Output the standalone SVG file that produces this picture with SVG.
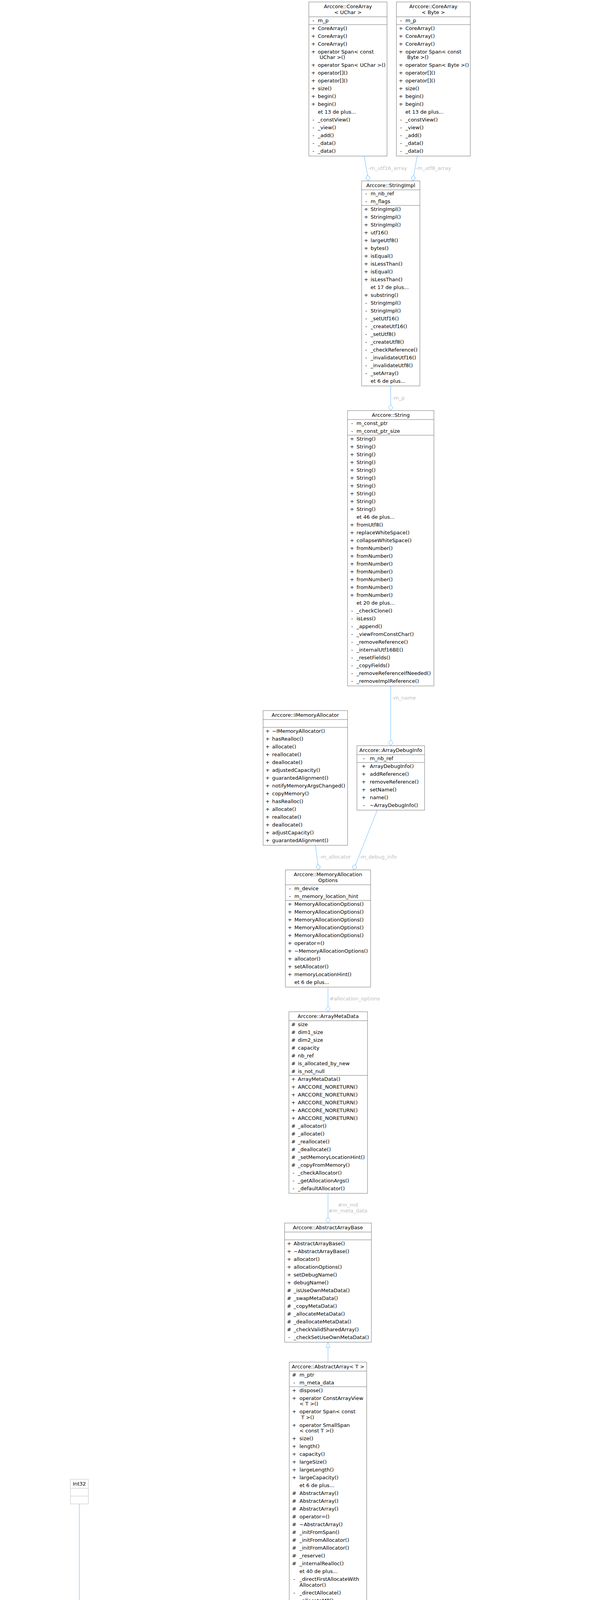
<svg xmlns="http://www.w3.org/2000/svg" width="1545" height="7845" viewBox="0 0 1545 7845">
<style>
text{font-family:"DejaVu Sans","Liberation Sans",Arial,sans-serif;font-size:13px;fill:#000}
.m{text-anchor:middle}
.b{fill:#fff;stroke:#707070}
.bu{fill:#fff;stroke:#bfbfbf}
.bf{fill:#999;stroke:#666}
.s{fill:none;stroke:#707070}
.su{fill:none;stroke:#bfbfbf}
.e{fill:none;stroke:#63b8ff}
.a{marker-end:url(#dia)}
.i{marker-end:url(#tri)}
.l{fill:#bebebe}
</style>
<defs>
<marker id="dia" markerUnits="userSpaceOnUse" orient="auto" refX="15" refY="0" markerWidth="16" markerHeight="13" overflow="visible"><path d="M0,0L7.5,-5.5L15,0L7.5,5.5Z" fill="#fff" stroke="#63b8ff"/></marker>
<marker id="tri" markerUnits="userSpaceOnUse" orient="auto" refX="13" refY="0" markerWidth="14" markerHeight="12" overflow="visible"><path d="M0,-5L13,0L0,5Z" fill="#fff" stroke="#63b8ff"/></marker>
</defs>
<rect x="0" y="0" width="1545" height="7845" fill="#fff"/>

<g id="edges">
<path class="e a" d="M931.5,399.5L942.5,463"/>
<path class="e a" d="M1067,399.5L1056,463"/>
<path class="e a" d="M999.5,988L999.5,1051"/>
<path class="e a" d="M999.5,1756L999.5,1909"/>
<path class="e a" d="M807,2164L815,2227"/>
<path class="e a" d="M965,2074L904,2227"/>
<path class="e a" d="M839,2527L839,2590"/>
<path class="e a" d="M839,3055L839,3131"/>
<path class="e i" d="M839,3487L839,3436"/>
<path class="e i" d="M738,4228L754,4150"/>
<path class="e i" d="M934,4228L918,4150"/>
<path class="e a" d="M203,3850L203,4334"/>
<path class="e a" d="M203,4554L203,4721"/>
<path class="e a" d="M353,4642L318,4721"/>
<path class="e a" d="M444,4642C447,4900 458,5120 488,5290C505,5390 528,5460 545,5517"/>
<path class="e a" d="M655,5095C650,5300 645,5420 645,5517"/>
<path class="e a" d="M888,5068C876,5170 866,5270 868,5370C870,5470 828,5570 778,5642"/>
<path class="e a" d="M296,5175C318,5260 312,5380 318,5460C335,5580 420,5660 519,5730"/>
<path class="e a" d="M190,5175C180,5400 168,5560 129,5734"/>
<path class="e a" d="M72,5734C40,5620 6,5500 6,5370C6,5240 30,5150 87,5090"/>
<path class="e a" d="M771,6152L791,6215"/>
<path class="e a" d="M890,6595L896,6658"/>
<path class="e i" d="M1097,5199L1024,4657"/>
<path class="e a" d="M1104,5494C1092,6000 1075,6800 1057,7380"/>
<path class="e a" d="M985,7318L992,7380"/>
<path class="e a" d="M1165,7119L1097,7380"/>
<path class="e a" d="M751,7157C785,7270 845,7400 919,7460"/>
<path class="e a" d="M1355,7207C1320,7320 1240,7430 1146,7499"/>
<path class="e i" d="M919,7561C780,7490 640,7380 560,7260C505,7170 472,7100 459,7018"/>
<text class="l" x="942" y="434.8">-m_utf16_array</text>
<text class="l" x="1063" y="434.8">-m_utf8_array</text>
<text class="l" x="1003" y="1022.5">-m_p</text>
<text class="l" x="1003" y="1791.3">-m_name</text>
<text class="l" x="817" y="2198">-m_allocator</text>
<text class="l" x="919" y="2198">-m_debug_info</text>
<text class="l" x="843" y="2560.7">#allocation_options</text>
<text class="l m" x="890" y="3088.8">#m_md</text>
<text class="l m" x="890" y="3103.6">#m_meta_data</text>
<text class="l" x="207" y="4185">-HOST_ID</text>
<text class="l" x="207" y="4199.7">-NULL_ID</text>
<text class="l" x="207" y="4691.4">-m_device_id</text>
<text class="l" x="332" y="4691.4">-m_runtime</text>
<text class="l" x="475" y="4950.5">-m_runtime</text>
<text class="l" x="34.5" y="5348.4">-m_run_queue_pool</text>
<text class="l" x="193" y="5348.4">-m_runner_impl</text>
<text class="l" x="337" y="5348.4">-m_runner_impl</text>
<text class="l" x="654" y="5348.4">-m_active_run_command_list</text>
<text class="l" x="875" y="5348.4">-m_queue_stream</text>
<text class="l" x="789" y="6187">-m_value</text>
<text class="l" x="1082" y="6407.5">-m_heat_objects</text>
<text class="l" x="898.6" y="6628.5">-m_p</text>
<text class="l" x="845" y="7352">-m_material_mng</text>
<text class="l" x="994" y="7352">-m_queue</text>
<text class="l" x="1104.5" y="7352">-m_profiling_service</text>
<text class="l" x="1286" y="7352">-m_sequential_runner</text>
</g>

<g id="coreArrayUChar">
<rect class="b" x="790" y="5" width="200" height="394.5"/>
<path class="s" d="M790,43H990M790,63H990"/>
<text class="m" x="890" y="20.5">Arccore::CoreArray</text>
<text class="m" x="890" y="35.5">&lt; UChar &gt;</text>
<text class="m" x="801.5" y="56.5">-</text><text x="813" y="56.5">m_p</text>
<text class="m" x="801.5" y="76.5">+<tspan x="801.5" dy="20">+</tspan><tspan x="801.5" dy="20">+</tspan><tspan x="801.5" dy="20">+</tspan><tspan x="801.5" dy="34.5">+</tspan><tspan x="801.5" dy="20">+</tspan><tspan x="801.5" dy="20">+</tspan><tspan x="801.5" dy="20">+</tspan><tspan x="801.5" dy="20">+</tspan><tspan x="801.5" dy="20">+</tspan><tspan x="801.5" dy="40">-</tspan><tspan x="801.5" dy="20">-</tspan><tspan x="801.5" dy="20">-</tspan><tspan x="801.5" dy="20">-</tspan><tspan x="801.5" dy="20">-</tspan></text>
<text x="813" y="76.5">CoreArray()<tspan x="813" dy="20">CoreArray()</tspan><tspan x="813" dy="20">CoreArray()</tspan><tspan x="813" dy="20">operator Span&lt; const</tspan><tspan x="817.5" dy="14.5">UChar &gt;()</tspan><tspan x="813" dy="20">operator Span&lt; UChar &gt;()</tspan><tspan x="813" dy="20">operator[]()</tspan><tspan x="813" dy="20">operator[]()</tspan><tspan x="813" dy="20">size()</tspan><tspan x="813" dy="20">begin()</tspan><tspan x="813" dy="20">begin()</tspan><tspan x="813" dy="20">et 13 de plus...</tspan><tspan x="813" dy="20">_constView()</tspan><tspan x="813" dy="20">_view()</tspan><tspan x="813" dy="20">_add()</tspan><tspan x="813" dy="20">_data()</tspan><tspan x="813" dy="20">_data()</tspan></text>
</g>

<g id="coreArrayByte">
<rect class="b" x="1014" y="5" width="189" height="394.5"/>
<path class="s" d="M1014,43H1203M1014,63H1203"/>
<text class="m" x="1108.5" y="20.5">Arccore::CoreArray</text>
<text class="m" x="1108.5" y="35.5">&lt; Byte &gt;</text>
<text class="m" x="1025.5" y="56.5">-</text><text x="1037" y="56.5">m_p</text>
<text class="m" x="1025.5" y="76.5">+<tspan x="1025.5" dy="20">+</tspan><tspan x="1025.5" dy="20">+</tspan><tspan x="1025.5" dy="20">+</tspan><tspan x="1025.5" dy="34.5">+</tspan><tspan x="1025.5" dy="20">+</tspan><tspan x="1025.5" dy="20">+</tspan><tspan x="1025.5" dy="20">+</tspan><tspan x="1025.5" dy="20">+</tspan><tspan x="1025.5" dy="20">+</tspan><tspan x="1025.5" dy="40">-</tspan><tspan x="1025.5" dy="20">-</tspan><tspan x="1025.5" dy="20">-</tspan><tspan x="1025.5" dy="20">-</tspan><tspan x="1025.5" dy="20">-</tspan></text>
<text x="1037" y="76.5">CoreArray()<tspan x="1037" dy="20">CoreArray()</tspan><tspan x="1037" dy="20">CoreArray()</tspan><tspan x="1037" dy="20">operator Span&lt; const</tspan><tspan x="1041.5" dy="14.5">Byte &gt;()</tspan><tspan x="1037" dy="20">operator Span&lt; Byte &gt;()</tspan><tspan x="1037" dy="20">operator[]()</tspan><tspan x="1037" dy="20">operator[]()</tspan><tspan x="1037" dy="20">size()</tspan><tspan x="1037" dy="20">begin()</tspan><tspan x="1037" dy="20">begin()</tspan><tspan x="1037" dy="20">et 13 de plus...</tspan><tspan x="1037" dy="20">_constView()</tspan><tspan x="1037" dy="20">_view()</tspan><tspan x="1037" dy="20">_add()</tspan><tspan x="1037" dy="20">_data()</tspan><tspan x="1037" dy="20">_data()</tspan></text>
</g>

<g id="stringImpl">
<rect class="b" x="925" y="463" width="149" height="525"/>
<path class="s" d="M925,486H1074M925,526H1074"/>
<text class="m" x="999.5" y="478.5">Arccore::StringImpl</text>
<text class="m" x="936.5" y="499.5">-<tspan x="936.5" dy="20">-</tspan></text>
<text x="948" y="499.5">m_nb_ref<tspan x="948" dy="20">m_flags</tspan></text>
<text class="m" x="936.5" y="539.5">+<tspan x="936.5" dy="20">+</tspan><tspan x="936.5" dy="20">+</tspan><tspan x="936.5" dy="20">+</tspan><tspan x="936.5" dy="20">+</tspan><tspan x="936.5" dy="20">+</tspan><tspan x="936.5" dy="20">+</tspan><tspan x="936.5" dy="20">+</tspan><tspan x="936.5" dy="20">+</tspan><tspan x="936.5" dy="20">+</tspan><tspan x="936.5" dy="40">+</tspan><tspan x="936.5" dy="20">-</tspan><tspan x="936.5" dy="20">-</tspan><tspan x="936.5" dy="20">-</tspan><tspan x="936.5" dy="20">-</tspan><tspan x="936.5" dy="20">-</tspan><tspan x="936.5" dy="20">-</tspan><tspan x="936.5" dy="20">-</tspan><tspan x="936.5" dy="20">-</tspan><tspan x="936.5" dy="20">-</tspan><tspan x="936.5" dy="20">-</tspan></text>
<text x="948" y="539.5">StringImpl()<tspan x="948" dy="20">StringImpl()</tspan><tspan x="948" dy="20">StringImpl()</tspan><tspan x="948" dy="20">utf16()</tspan><tspan x="948" dy="20">largeUtf8()</tspan><tspan x="948" dy="20">bytes()</tspan><tspan x="948" dy="20">isEqual()</tspan><tspan x="948" dy="20">isLessThan()</tspan><tspan x="948" dy="20">isEqual()</tspan><tspan x="948" dy="20">isLessThan()</tspan><tspan x="948" dy="20">et 17 de plus...</tspan><tspan x="948" dy="20">substring()</tspan><tspan x="948" dy="20">StringImpl()</tspan><tspan x="948" dy="20">StringImpl()</tspan><tspan x="948" dy="20">_setUtf16()</tspan><tspan x="948" dy="20">_createUtf16()</tspan><tspan x="948" dy="20">_setUtf8()</tspan><tspan x="948" dy="20">_createUtf8()</tspan><tspan x="948" dy="20">_checkReference()</tspan><tspan x="948" dy="20">_invalidateUtf16()</tspan><tspan x="948" dy="20">_invalidateUtf8()</tspan><tspan x="948" dy="20">_setArray()</tspan><tspan x="948" dy="20">et 6 de plus...</tspan></text>
</g>

<g id="string">
<rect class="b" x="889" y="1051" width="221" height="705"/>
<path class="s" d="M889,1074H1110M889,1114H1110"/>
<text class="m" x="999.5" y="1066.5">Arccore::String</text>
<text class="m" x="900.5" y="1087.5">-<tspan x="900.5" dy="20">-</tspan></text>
<text x="912" y="1087.5">m_const_ptr<tspan x="912" dy="20">m_const_ptr_size</tspan></text>
<text class="m" x="900.5" y="1127.5">+<tspan x="900.5" dy="20">+</tspan><tspan x="900.5" dy="20">+</tspan><tspan x="900.5" dy="20">+</tspan><tspan x="900.5" dy="20">+</tspan><tspan x="900.5" dy="20">+</tspan><tspan x="900.5" dy="20">+</tspan><tspan x="900.5" dy="20">+</tspan><tspan x="900.5" dy="20">+</tspan><tspan x="900.5" dy="20">+</tspan><tspan x="900.5" dy="40">+</tspan><tspan x="900.5" dy="20">+</tspan><tspan x="900.5" dy="20">+</tspan><tspan x="900.5" dy="20">+</tspan><tspan x="900.5" dy="20">+</tspan><tspan x="900.5" dy="20">+</tspan><tspan x="900.5" dy="20">+</tspan><tspan x="900.5" dy="20">+</tspan><tspan x="900.5" dy="20">+</tspan><tspan x="900.5" dy="20">+</tspan><tspan x="900.5" dy="40">-</tspan><tspan x="900.5" dy="20">-</tspan><tspan x="900.5" dy="20">-</tspan><tspan x="900.5" dy="20">-</tspan><tspan x="900.5" dy="20">-</tspan><tspan x="900.5" dy="20">-</tspan><tspan x="900.5" dy="20">-</tspan><tspan x="900.5" dy="20">-</tspan><tspan x="900.5" dy="20">-</tspan><tspan x="900.5" dy="20">-</tspan></text>
<text x="912" y="1127.5">String()<tspan x="912" dy="20">String()</tspan><tspan x="912" dy="20">String()</tspan><tspan x="912" dy="20">String()</tspan><tspan x="912" dy="20">String()</tspan><tspan x="912" dy="20">String()</tspan><tspan x="912" dy="20">String()</tspan><tspan x="912" dy="20">String()</tspan><tspan x="912" dy="20">String()</tspan><tspan x="912" dy="20">String()</tspan><tspan x="912" dy="20">et 46 de plus...</tspan><tspan x="912" dy="20">fromUtf8()</tspan><tspan x="912" dy="20">replaceWhiteSpace()</tspan><tspan x="912" dy="20">collapseWhiteSpace()</tspan><tspan x="912" dy="20">fromNumber()</tspan><tspan x="912" dy="20">fromNumber()</tspan><tspan x="912" dy="20">fromNumber()</tspan><tspan x="912" dy="20">fromNumber()</tspan><tspan x="912" dy="20">fromNumber()</tspan><tspan x="912" dy="20">fromNumber()</tspan><tspan x="912" dy="20">fromNumber()</tspan><tspan x="912" dy="20">et 20 de plus...</tspan><tspan x="912" dy="20">_checkClone()</tspan><tspan x="912" dy="20">isLess()</tspan><tspan x="912" dy="20">_append()</tspan><tspan x="912" dy="20">_viewFromConstChar()</tspan><tspan x="912" dy="20">_removeReference()</tspan><tspan x="912" dy="20">_internalUtf16BE()</tspan><tspan x="912" dy="20">_resetFields()</tspan><tspan x="912" dy="20">_copyFields()</tspan><tspan x="912" dy="20">_removeReferenceIfNeeded()</tspan><tspan x="912" dy="20">_removeImplReference()</tspan></text>
</g>

<g id="arrayDebugInfo">
<rect class="b" x="913" y="1909" width="173" height="165"/>
<path class="s" d="M913,1932H1086M913,1952H1086"/>
<text class="m" x="999.5" y="1924.5">Arccore::ArrayDebugInfo</text>
<text class="m" x="930.5" y="1945.5">-</text><text x="946" y="1945.5">m_nb_ref</text>
<text class="m" x="930.5" y="1965.5">+<tspan x="930.5" dy="20">+</tspan><tspan x="930.5" dy="20">+</tspan><tspan x="930.5" dy="20">+</tspan><tspan x="930.5" dy="20">+</tspan><tspan x="930.5" dy="20">-</tspan></text>
<text x="946" y="1965.5">ArrayDebugInfo()<tspan x="946" dy="20">addReference()</tspan><tspan x="946" dy="20">removeReference()</tspan><tspan x="946" dy="20">setName()</tspan><tspan x="946" dy="20">name()</tspan><tspan x="946" dy="20">~ArrayDebugInfo()</tspan></text>
</g>

<g id="iMemoryAllocator">
<rect class="b" x="673" y="1819" width="216" height="345"/>
<path class="s" d="M673,1842H889M673,1862H889"/>
<text class="m" x="781" y="1834.5">Arccore::IMemoryAllocator</text>
<text class="m" x="684.5" y="1875.5">+<tspan x="684.5" dy="20">+</tspan><tspan x="684.5" dy="20">+</tspan><tspan x="684.5" dy="20">+</tspan><tspan x="684.5" dy="20">+</tspan><tspan x="684.5" dy="20">+</tspan><tspan x="684.5" dy="20">+</tspan><tspan x="684.5" dy="20">+</tspan><tspan x="684.5" dy="20">+</tspan><tspan x="684.5" dy="20">+</tspan><tspan x="684.5" dy="20">+</tspan><tspan x="684.5" dy="20">+</tspan><tspan x="684.5" dy="20">+</tspan><tspan x="684.5" dy="20">+</tspan><tspan x="684.5" dy="20">+</tspan></text>
<text x="696" y="1875.5">~IMemoryAllocator()<tspan x="696" dy="20">hasRealloc()</tspan><tspan x="696" dy="20">allocate()</tspan><tspan x="696" dy="20">reallocate()</tspan><tspan x="696" dy="20">deallocate()</tspan><tspan x="696" dy="20">adjustedCapacity()</tspan><tspan x="696" dy="20">guarantedAlignment()</tspan><tspan x="696" dy="20">notifyMemoryArgsChanged()</tspan><tspan x="696" dy="20">copyMemory()</tspan><tspan x="696" dy="20">hasRealloc()</tspan><tspan x="696" dy="20">allocate()</tspan><tspan x="696" dy="20">reallocate()</tspan><tspan x="696" dy="20">deallocate()</tspan><tspan x="696" dy="20">adjustCapacity()</tspan><tspan x="696" dy="20">guarantedAlignment()</tspan></text>
</g>

<g id="memoryAllocationOptions">
<rect class="b" x="730" y="2227" width="218" height="300"/>
<path class="s" d="M730,2265H948M730,2305H948"/>
<text class="m" x="839" y="2242.5">Arccore::MemoryAllocation</text>
<text class="m" x="839" y="2257.5">Options</text>
<text class="m" x="741.5" y="2278.5">-<tspan x="741.5" dy="20">-</tspan></text>
<text x="753" y="2278.5">m_device<tspan x="753" dy="20">m_memory_location_hint</tspan></text>
<text class="m" x="741.5" y="2318.5">+<tspan x="741.5" dy="20">+</tspan><tspan x="741.5" dy="20">+</tspan><tspan x="741.5" dy="20">+</tspan><tspan x="741.5" dy="20">+</tspan><tspan x="741.5" dy="20">+</tspan><tspan x="741.5" dy="20">+</tspan><tspan x="741.5" dy="20">+</tspan><tspan x="741.5" dy="20">+</tspan><tspan x="741.5" dy="20">+</tspan></text>
<text x="753" y="2318.5">MemoryAllocationOptions()<tspan x="753" dy="20">MemoryAllocationOptions()</tspan><tspan x="753" dy="20">MemoryAllocationOptions()</tspan><tspan x="753" dy="20">MemoryAllocationOptions()</tspan><tspan x="753" dy="20">MemoryAllocationOptions()</tspan><tspan x="753" dy="20">operator=()</tspan><tspan x="753" dy="20">~MemoryAllocationOptions()</tspan><tspan x="753" dy="20">allocator()</tspan><tspan x="753" dy="20">setAllocator()</tspan><tspan x="753" dy="20">memoryLocationHint()</tspan><tspan x="753" dy="20">et 6 de plus...</tspan></text>
</g>

<g id="arrayMetaData">
<rect class="b" x="739" y="2590" width="201" height="465"/>
<path class="s" d="M739,2613H940M739,2753H940"/>
<text class="m" x="839.5" y="2605.5">Arccore::ArrayMetaData</text>
<text class="m" x="750.5" y="2626.5">#<tspan x="750.5" dy="20">#</tspan><tspan x="750.5" dy="20">#</tspan><tspan x="750.5" dy="20">#</tspan><tspan x="750.5" dy="20">#</tspan><tspan x="750.5" dy="20">#</tspan><tspan x="750.5" dy="20">#</tspan></text>
<text x="762" y="2626.5">size<tspan x="762" dy="20">dim1_size</tspan><tspan x="762" dy="20">dim2_size</tspan><tspan x="762" dy="20">capacity</tspan><tspan x="762" dy="20">nb_ref</tspan><tspan x="762" dy="20">is_allocated_by_new</tspan><tspan x="762" dy="20">is_not_null</tspan></text>
<text class="m" x="750.5" y="2766.5">+<tspan x="750.5" dy="20">+</tspan><tspan x="750.5" dy="20">+</tspan><tspan x="750.5" dy="20">+</tspan><tspan x="750.5" dy="20">+</tspan><tspan x="750.5" dy="20">+</tspan><tspan x="750.5" dy="20">#</tspan><tspan x="750.5" dy="20">#</tspan><tspan x="750.5" dy="20">#</tspan><tspan x="750.5" dy="20">#</tspan><tspan x="750.5" dy="20">#</tspan><tspan x="750.5" dy="20">#</tspan><tspan x="750.5" dy="20">-</tspan><tspan x="750.5" dy="20">-</tspan><tspan x="750.5" dy="20">-</tspan></text>
<text x="762" y="2766.5">ArrayMetaData()<tspan x="762" dy="20">ARCCORE_NORETURN()</tspan><tspan x="762" dy="20">ARCCORE_NORETURN()</tspan><tspan x="762" dy="20">ARCCORE_NORETURN()</tspan><tspan x="762" dy="20">ARCCORE_NORETURN()</tspan><tspan x="762" dy="20">ARCCORE_NORETURN()</tspan><tspan x="762" dy="20">_allocator()</tspan><tspan x="762" dy="20">_allocate()</tspan><tspan x="762" dy="20">_reallocate()</tspan><tspan x="762" dy="20">_deallocate()</tspan><tspan x="762" dy="20">_setMemoryLocationHint()</tspan><tspan x="762" dy="20">_copyFromMemory()</tspan><tspan x="762" dy="20">_checkAllocator()</tspan><tspan x="762" dy="20">_getAllocationArgs()</tspan><tspan x="762" dy="20">_defaultAllocator()</tspan></text>
</g>

<g id="abstractArrayBase">
<rect class="b" x="728" y="3131" width="222" height="305"/>
<path class="s" d="M728,3154H950M728,3174H950"/>
<text class="m" x="839" y="3146.5">Arccore::AbstractArrayBase</text>
<text class="m" x="739.5" y="3187.5">+<tspan x="739.5" dy="20">+</tspan><tspan x="739.5" dy="20">+</tspan><tspan x="739.5" dy="20">+</tspan><tspan x="739.5" dy="20">+</tspan><tspan x="739.5" dy="20">+</tspan><tspan x="739.5" dy="20">#</tspan><tspan x="739.5" dy="20">#</tspan><tspan x="739.5" dy="20">#</tspan><tspan x="739.5" dy="20">#</tspan><tspan x="739.5" dy="20">#</tspan><tspan x="739.5" dy="20">#</tspan><tspan x="739.5" dy="20">-</tspan></text>
<text x="751" y="3187.5">AbstractArrayBase()<tspan x="751" dy="20">~AbstractArrayBase()</tspan><tspan x="751" dy="20">allocator()</tspan><tspan x="751" dy="20">allocationOptions()</tspan><tspan x="751" dy="20">setDebugName()</tspan><tspan x="751" dy="20">debugName()</tspan><tspan x="751" dy="20">_isUseOwnMetaData()</tspan><tspan x="751" dy="20">_swapMetaData()</tspan><tspan x="751" dy="20">_copyMetaData()</tspan><tspan x="751" dy="20">_allocateMetaData()</tspan><tspan x="751" dy="20">_deallocateMetaData()</tspan><tspan x="751" dy="20">_checkValidSharedArray()</tspan><tspan x="751" dy="20">_checkSetUseOwnMetaData()</tspan></text>
</g>

<g id="abstractArray">
<rect class="b" x="740" y="3487" width="198" height="663"/>
<path class="s" d="M740,3510H938M740,3550H938"/>
<text class="m" x="839" y="3502.5">Arccore::AbstractArray&lt; T &gt;</text>
<text class="m" x="752.5" y="3523.5">#<tspan x="752.5" dy="20">-</tspan></text>
<text x="766" y="3523.5">m_ptr<tspan x="766" dy="20">m_meta_data</tspan></text>
<text class="m" x="752.5" y="3563.5">+<tspan x="752.5" dy="20">+</tspan><tspan x="752.5" dy="34.5">+</tspan><tspan x="752.5" dy="34.5">+</tspan><tspan x="752.5" dy="34.5">+</tspan><tspan x="752.5" dy="20">+</tspan><tspan x="752.5" dy="20">+</tspan><tspan x="752.5" dy="20">+</tspan><tspan x="752.5" dy="20">+</tspan><tspan x="752.5" dy="20">+</tspan><tspan x="752.5" dy="40">#</tspan><tspan x="752.5" dy="20">#</tspan><tspan x="752.5" dy="20">#</tspan><tspan x="752.5" dy="20">#</tspan><tspan x="752.5" dy="20">#</tspan><tspan x="752.5" dy="20">#</tspan><tspan x="752.5" dy="20">#</tspan><tspan x="752.5" dy="20">#</tspan><tspan x="752.5" dy="20">#</tspan><tspan x="752.5" dy="20">#</tspan><tspan x="752.5" dy="40">-</tspan><tspan x="752.5" dy="34.5">-</tspan><tspan x="752.5" dy="20">-</tspan><tspan x="752.5" dy="20">-</tspan><tspan x="752.5" dy="20">-</tspan></text>
<text x="766" y="3563.5">dispose()<tspan x="766" dy="20">operator ConstArrayView</tspan><tspan x="766" dy="14.5">&lt; T &gt;()</tspan><tspan x="766" dy="20">operator Span&lt; const</tspan><tspan x="770.5" dy="14.5">T &gt;()</tspan><tspan x="766" dy="20">operator SmallSpan</tspan><tspan x="766" dy="14.5">&lt; const T &gt;()</tspan><tspan x="766" dy="20">size()</tspan><tspan x="766" dy="20">length()</tspan><tspan x="766" dy="20">capacity()</tspan><tspan x="766" dy="20">largeSize()</tspan><tspan x="766" dy="20">largeLength()</tspan><tspan x="766" dy="20">largeCapacity()</tspan><tspan x="766" dy="20">et 6 de plus...</tspan><tspan x="766" dy="20">AbstractArray()</tspan><tspan x="766" dy="20">AbstractArray()</tspan><tspan x="766" dy="20">AbstractArray()</tspan><tspan x="766" dy="20">operator=()</tspan><tspan x="766" dy="20">~AbstractArray()</tspan><tspan x="766" dy="20">_initFromSpan()</tspan><tspan x="766" dy="20">_initFromAllocator()</tspan><tspan x="766" dy="20">_initFromAllocator()</tspan><tspan x="766" dy="20">_reserve()</tspan><tspan x="766" dy="20">_internalRealloc()</tspan><tspan x="766" dy="20">et 40 de plus...</tspan><tspan x="766" dy="20">_directFirstAllocateWith</tspan><tspan x="766" dy="14.5">Allocator()</tspan><tspan x="766" dy="20">_directAllocate()</tspan><tspan x="766" dy="20">_allocateMP()</tspan><tspan x="766" dy="20">_directReAllocate()</tspan><tspan x="766" dy="20">_setToSharedNull()</tspan></text>
</g>

<g id="int32">
<rect class="bu" x="180" y="3787" width="46" height="63"/>
<path class="su" d="M180,3810H226M180,3830H226"/>
<text class="m" x="203" y="3802.5">Int32</text>
</g>

<g id="deviceId">
<rect class="b" x="133" y="4334" width="140" height="220"/>
<path class="s" d="M133,4372H273M133,4392H273"/>
<text class="m" x="203" y="4349.5">Arcane::Accelerator</text>
<text class="m" x="203" y="4364.5">::DeviceId</text>
<text class="m" x="148.5" y="4385.5">-</text><text x="163" y="4385.5">m_device_id</text>
<text class="m" x="148.5" y="4405.5">+<tspan x="148.5" dy="20">+</tspan><tspan x="148.5" dy="20">+</tspan><tspan x="148.5" dy="20">+</tspan><tspan x="148.5" dy="20">+</tspan><tspan x="148.5" dy="20">+</tspan><tspan x="148.5" dy="20">+</tspan><tspan x="148.5" dy="20">+</tspan></text>
<text x="163" y="4405.5">DeviceId()<tspan x="163" dy="20">DeviceId()</tspan><tspan x="163" dy="20">isHost()</tspan><tspan x="163" dy="20">isNull()</tspan><tspan x="163" dy="20">isAccelerator()</tspan><tspan x="163" dy="20">asInt32()</tspan><tspan x="163" dy="20">hostDevice()</tspan><tspan x="163" dy="20">nullDevice()</tspan></text>
</g>

<g id="iRunnerRuntime">
<rect class="b" x="345" y="4242" width="213" height="400"/>
<path class="s" d="M345,4280H558M345,4300H558"/>
<text x="376" y="4257.5">Arcane::Accelerator</text>
<text class="m" x="451.5" y="4272.5">::impl::IRunnerRuntime</text>
<text class="m" x="356.5" y="4313.5">+<tspan x="356.5" dy="20">+</tspan><tspan x="356.5" dy="20">+</tspan><tspan x="356.5" dy="20">+</tspan><tspan x="356.5" dy="20">+</tspan><tspan x="356.5" dy="20">+</tspan><tspan x="356.5" dy="20">+</tspan><tspan x="356.5" dy="20">+</tspan><tspan x="356.5" dy="20">+</tspan><tspan x="356.5" dy="20">+</tspan><tspan x="356.5" dy="20">+</tspan><tspan x="356.5" dy="20">+</tspan><tspan x="356.5" dy="20">+</tspan><tspan x="356.5" dy="20">+</tspan><tspan x="356.5" dy="20">+</tspan><tspan x="356.5" dy="20">#</tspan><tspan x="356.5" dy="20">#</tspan></text>
<text x="367" y="4313.5">~IRunnerRuntime()<tspan x="367" dy="20">notifyBeginLaunchKernel()</tspan><tspan x="367" dy="20">notifyEndLaunchKernel()</tspan><tspan x="367" dy="20">barrier()</tspan><tspan x="367" dy="20">executionPolicy()</tspan><tspan x="367" dy="20">createStream()</tspan><tspan x="367" dy="20">createEventImpl()</tspan><tspan x="367" dy="20">createEventImplWithTimer()</tspan><tspan x="367" dy="20">setMemoryAdvice()</tspan><tspan x="367" dy="20">unsetMemoryAdvice()</tspan><tspan x="367" dy="20">setCurrentDevice()</tspan><tspan x="367" dy="20">deviceInfoList()</tspan><tspan x="367" dy="20">startProfiling()</tspan><tspan x="367" dy="20">stopProfiling()</tspan><tspan x="367" dy="20">getPointerAttribute()</tspan><tspan x="367" dy="20">_fillPointerAttribute()</tspan><tspan x="367" dy="20">_fillPointerAttribute()</tspan></text>
</g>

<g id="array1">
<rect class="b" x="589" y="4228" width="192" height="428.5"/>
<path class="s" d="M589,4251H781M589,4271H781"/>
<text class="m" x="685" y="4243.5">Arccore::Array&lt; T &gt;</text>
<text class="m" x="600.5" y="4284.5">+<tspan x="600.5" dy="20">+</tspan><tspan x="600.5" dy="34.5">+</tspan><tspan x="600.5" dy="34.5">+</tspan><tspan x="600.5" dy="34.5">+</tspan><tspan x="600.5" dy="20">+</tspan><tspan x="600.5" dy="20">+</tspan><tspan x="600.5" dy="20">+</tspan><tspan x="600.5" dy="20">+</tspan><tspan x="600.5" dy="20">+</tspan><tspan x="600.5" dy="40">#</tspan><tspan x="600.5" dy="20">#</tspan><tspan x="600.5" dy="20">#</tspan><tspan x="600.5" dy="20">-</tspan><tspan x="600.5" dy="20">-</tspan><tspan x="600.5" dy="20">-</tspan></text>
<text x="611" y="4284.5">~Array()<tspan x="611" dy="20">operator ConstArrayView</tspan><tspan x="611" dy="14.5">&lt; T &gt;()</tspan><tspan x="611" dy="20">operator ArrayView</tspan><tspan x="611" dy="14.5">&lt; T &gt;()</tspan><tspan x="611" dy="20">operator Span&lt; const</tspan><tspan x="615.5" dy="14.5">T &gt;()</tspan><tspan x="611" dy="20">operator Span&lt; T &gt;()</tspan><tspan x="611" dy="20">constView()</tspan><tspan x="611" dy="20">constSpan()</tspan><tspan x="611" dy="20">subConstView()</tspan><tspan x="611" dy="20">view()</tspan><tspan x="611" dy="20">span()</tspan><tspan x="611" dy="20">et 53 de plus...</tspan><tspan x="611" dy="20">Array()</tspan><tspan x="611" dy="20">Array()</tspan><tspan x="611" dy="20">_initFromInitializerList()</tspan><tspan x="611" dy="20">Array()</tspan><tspan x="611" dy="20">operator=()</tspan><tspan x="611" dy="20">TV_ttf_display_type()</tspan></text>
</g>

<g id="array2">
<rect class="b" x="889" y="4228" width="191" height="428.5"/>
<path class="s" d="M889,4251H1080M889,4271H1080"/>
<text class="m" x="984.5" y="4243.5">Arccore::Array&lt; T &gt;</text>
<text class="m" x="900.5" y="4284.5">+<tspan x="900.5" dy="20">+</tspan><tspan x="900.5" dy="34.5">+</tspan><tspan x="900.5" dy="34.5">+</tspan><tspan x="900.5" dy="34.5">+</tspan><tspan x="900.5" dy="20">+</tspan><tspan x="900.5" dy="20">+</tspan><tspan x="900.5" dy="20">+</tspan><tspan x="900.5" dy="20">+</tspan><tspan x="900.5" dy="20">+</tspan><tspan x="900.5" dy="40">#</tspan><tspan x="900.5" dy="20">#</tspan><tspan x="900.5" dy="20">#</tspan><tspan x="900.5" dy="20">-</tspan><tspan x="900.5" dy="20">-</tspan><tspan x="900.5" dy="20">-</tspan></text>
<text x="911" y="4284.5">~Array()<tspan x="911" dy="20">operator ConstArrayView</tspan><tspan x="911" dy="14.5">&lt; T &gt;()</tspan><tspan x="911" dy="20">operator ArrayView</tspan><tspan x="911" dy="14.5">&lt; T &gt;()</tspan><tspan x="911" dy="20">operator Span&lt; const</tspan><tspan x="915.5" dy="14.5">T &gt;()</tspan><tspan x="911" dy="20">operator Span&lt; T &gt;()</tspan><tspan x="911" dy="20">constView()</tspan><tspan x="911" dy="20">constSpan()</tspan><tspan x="911" dy="20">subConstView()</tspan><tspan x="911" dy="20">view()</tspan><tspan x="911" dy="20">span()</tspan><tspan x="911" dy="20">et 53 de plus...</tspan><tspan x="911" dy="20">Array()</tspan><tspan x="911" dy="20">Array()</tspan><tspan x="911" dy="20">_initFromInitializerList()</tspan><tspan x="911" dy="20">Array()</tspan><tspan x="911" dy="20">operator=()</tspan><tspan x="911" dy="20">TV_ttf_display_type()</tspan></text>
</g>

<g id="runnerImpl">
<rect class="bu" x="88" y="4721" width="230" height="454.5"/>
<path class="su" d="M88,4759H318M88,4913.5H318"/>
<text class="m" x="203" y="4736.5">Arcane::Accelerator</text>
<text class="m" x="203" y="4751.5">::impl::RunnerImpl</text>
<text class="m" x="100.5" y="4772.5">-<tspan x="100.5" dy="20">-</tspan><tspan x="100.5" dy="20">-</tspan><tspan x="100.5" dy="20">-</tspan><tspan x="100.5" dy="20">-</tspan><tspan x="100.5" dy="20">-</tspan><tspan x="100.5" dy="20">-</tspan></text>
<text x="112" y="4772.5">m_execution_policy<tspan x="112" dy="20">m_is_init</tspan><tspan x="112" dy="20">m_reduce_policy</tspan><tspan x="112" dy="20">m_pool_mutex</tspan><tspan x="112" dy="20">m_use_pool_mutex</tspan><tspan x="112" dy="20">m_cumulative_command_time</tspan><tspan x="112" dy="20">m_is_auto_prefetch</tspan><tspan x="112" dy="14.5">_command</tspan></text>
<text class="m" x="100.5" y="4927">+<tspan x="100.5" dy="20">+</tspan><tspan x="100.5" dy="20">+</tspan><tspan x="100.5" dy="20">+</tspan><tspan x="100.5" dy="20">+</tspan><tspan x="100.5" dy="20">+</tspan><tspan x="100.5" dy="20">+</tspan><tspan x="100.5" dy="20">+</tspan><tspan x="100.5" dy="20">+</tspan><tspan x="100.5" dy="20">+</tspan><tspan x="100.5" dy="40">-</tspan><tspan x="100.5" dy="20">-</tspan></text>
<text x="112" y="4927">~RunnerImpl()<tspan x="112" dy="20">initialize()</tspan><tspan x="112" dy="20">setConcurrentQueueCreation()</tspan><tspan x="112" dy="20">isConcurrentQueueCreation()</tspan><tspan x="112" dy="20">getPool()</tspan><tspan x="112" dy="20">addTime()</tspan><tspan x="112" dy="20">cumulativeCommandTime()</tspan><tspan x="112" dy="20">runtime()</tspan><tspan x="112" dy="20">isAutoPrefetchCommand()</tspan><tspan x="112" dy="20">executionPolicy()</tspan><tspan x="112" dy="20">et 8 de plus...</tspan><tspan x="112" dy="20">_freePool()</tspan><tspan x="112" dy="20">_checkIsInit()</tspan></text>
</g>

<g id="uniqueArrayRunCommandImpl">
<rect class="b" x="565" y="4800" width="207" height="295"/>
<path class="s" d="M565,4853H772M565,4873H772"/>
<text x="573" y="4815.5">Arccore::UniqueArray</text>
<text x="573" y="4830.5">&lt; Arcane::Accelerator</text>
<text class="m" x="668.5" y="4845.5">::impl::RunCommandImpl * &gt;</text>
<text class="m" x="602.5" y="4886.5">+<tspan x="602.5" dy="20">+</tspan><tspan x="602.5" dy="20">+</tspan><tspan x="602.5" dy="20">+</tspan><tspan x="602.5" dy="20">+</tspan><tspan x="602.5" dy="20">+</tspan><tspan x="602.5" dy="20">+</tspan><tspan x="602.5" dy="20">+</tspan><tspan x="602.5" dy="20">+</tspan><tspan x="602.5" dy="20">+</tspan></text>
<text x="629" y="4886.5">UniqueArray()<tspan x="629" dy="20">UniqueArray()</tspan><tspan x="629" dy="20">UniqueArray()</tspan><tspan x="629" dy="20">UniqueArray()</tspan><tspan x="629" dy="20">UniqueArray()</tspan><tspan x="629" dy="20">UniqueArray()</tspan><tspan x="629" dy="20">UniqueArray()</tspan><tspan x="629" dy="20">UniqueArray()</tspan><tspan x="629" dy="20">UniqueArray()</tspan><tspan x="629" dy="20">UniqueArray()</tspan><tspan x="629" dy="20">et 27 de plus...</tspan></text>
</g>

<g id="iRunQueueStream">
<rect class="b" x="796" y="4828" width="224" height="240"/>
<path class="s" d="M796,4866H1020M796,4886H1020"/>
<text x="826" y="4843.5">Arcane::Accelerator</text>
<text class="m" x="908" y="4858.5">::impl::IRunQueueStream</text>
<text class="m" x="807.5" y="4899.5">+<tspan x="807.5" dy="20">+</tspan><tspan x="807.5" dy="20">+</tspan><tspan x="807.5" dy="20">+</tspan><tspan x="807.5" dy="20">+</tspan><tspan x="807.5" dy="20">+</tspan><tspan x="807.5" dy="20">+</tspan><tspan x="807.5" dy="20">+</tspan><tspan x="807.5" dy="20">+</tspan></text>
<text x="819" y="4899.5">~IRunQueueStream()<tspan x="819" dy="20">notifyBeginLaunchKernel()</tspan><tspan x="819" dy="20">notifyEndLaunchKernel()</tspan><tspan x="819" dy="20">barrier()</tspan><tspan x="819" dy="20">copyMemory()</tspan><tspan x="819" dy="20">prefetchMemory()</tspan><tspan x="819" dy="20">_internalImpl()</tspan><tspan x="819" dy="20">_barrierNoException()</tspan><tspan x="819" dy="20">_setSyclLastCommandEvent()</tspan></text>
</g>

<g id="uniqueArrayHeatObject">
<rect class="b" x="1006" y="5199" width="218" height="295"/>
<path class="s" d="M1006,5252H1224M1006,5272H1224"/>
<text x="1013" y="5214.5">Arccore::UniqueArray</text>
<text x="1013" y="5229.5">&lt; ArcaneTest::MaterialHeatTest</text>
<text class="m" x="1115" y="5244.5">Module::HeatObject &gt;</text>
<text class="m" x="1041.5" y="5285.5">+<tspan x="1041.5" dy="20">+</tspan><tspan x="1041.5" dy="20">+</tspan><tspan x="1041.5" dy="20">+</tspan><tspan x="1041.5" dy="20">+</tspan><tspan x="1041.5" dy="20">+</tspan><tspan x="1041.5" dy="20">+</tspan><tspan x="1041.5" dy="20">+</tspan><tspan x="1041.5" dy="20">+</tspan><tspan x="1041.5" dy="20">+</tspan></text>
<text x="1075" y="5285.5">UniqueArray()<tspan x="1075" dy="20">UniqueArray()</tspan><tspan x="1075" dy="20">UniqueArray()</tspan><tspan x="1075" dy="20">UniqueArray()</tspan><tspan x="1075" dy="20">UniqueArray()</tspan><tspan x="1075" dy="20">UniqueArray()</tspan><tspan x="1075" dy="20">UniqueArray()</tspan><tspan x="1075" dy="20">UniqueArray()</tspan><tspan x="1075" dy="20">UniqueArray()</tspan><tspan x="1075" dy="20">UniqueArray()</tspan><tspan x="1075" dy="20">et 27 de plus...</tspan></text>
</g>

<g id="runQueueImplStack">
<rect class="bu" x="16" y="5734" width="190" height="200"/>
<path class="su" d="M16,5772H206M16,5812H206"/>
<text x="23" y="5749.5">Arcane::Accelerator</text>
<text class="m" x="111" y="5764.5">::impl::RunQueueImplStack</text>
<text class="m" x="40.5" y="5785.5">-<tspan x="40.5" dy="20">-</tspan></text>
<text x="61" y="5785.5">m_stack<tspan x="61" dy="20">m_nb_created</tspan></text>
<text class="m" x="40.5" y="5825.5">+<tspan x="40.5" dy="20">+</tspan><tspan x="40.5" dy="20">+</tspan><tspan x="40.5" dy="20">+</tspan><tspan x="40.5" dy="20">+</tspan><tspan x="40.5" dy="20">+</tspan></text>
<text x="61" y="5825.5">initialize()<tspan x="61" dy="20">empty()</tspan><tspan x="61" dy="20">pop()</tspan><tspan x="61" dy="20">top()</tspan><tspan x="61" dy="20">push()</tspan><tspan x="61" dy="20">createRunQueue()</tspan></text>
</g>

<g id="runQueueImpl">
<rect class="b" x="519" y="5517" width="259" height="634.5"/>
<path class="s" d="M519,5555H778M519,5695H778"/>
<text x="578.5" y="5532.5">Arcane::Accelerator</text>
<text class="m" x="648.5" y="5547.5">::impl::RunQueueImpl</text>
<text class="m" x="531.5" y="5568.5">-<tspan x="531.5" dy="20">-</tspan><tspan x="531.5" dy="20">-</tspan><tspan x="531.5" dy="20">-</tspan><tspan x="531.5" dy="20">-</tspan><tspan x="531.5" dy="20">-</tspan><tspan x="531.5" dy="20">-</tspan></text>
<text x="542" y="5568.5">m_execution_policy<tspan x="542" dy="20">m_run_command_pool</tspan><tspan x="542" dy="20">m_id</tspan><tspan x="542" dy="20">m_is_in_pool</tspan><tspan x="542" dy="20">m_nb_ref</tspan><tspan x="542" dy="20">m_is_async</tspan><tspan x="542" dy="20">m_memory_ressource</tspan></text>
<text class="m" x="531.5" y="5708.5">+<tspan x="531.5" dy="20">+</tspan><tspan x="531.5" dy="20">+</tspan><tspan x="531.5" dy="20">+</tspan><tspan x="531.5" dy="20">+</tspan><tspan x="531.5" dy="20">+</tspan><tspan x="531.5" dy="20">+</tspan><tspan x="531.5" dy="20">+</tspan><tspan x="531.5" dy="20">+</tspan><tspan x="531.5" dy="20">+</tspan><tspan x="531.5" dy="20">+</tspan><tspan x="531.5" dy="20">+</tspan><tspan x="531.5" dy="20">-</tspan><tspan x="531.5" dy="20">-</tspan><tspan x="531.5" dy="34.5">-</tspan><tspan x="531.5" dy="20">-</tspan><tspan x="531.5" dy="20">-</tspan><tspan x="531.5" dy="20">-</tspan><tspan x="531.5" dy="20">-</tspan><tspan x="531.5" dy="20">-</tspan><tspan x="531.5" dy="20">-</tspan><tspan x="531.5" dy="20">-</tspan></text>
<text x="542" y="5708.5">~RunQueueImpl()<tspan x="542" dy="20">RunQueueImpl()</tspan><tspan x="542" dy="20">RunQueueImpl()</tspan><tspan x="542" dy="20">operator=()</tspan><tspan x="542" dy="20">operator=()</tspan><tspan x="542" dy="20">executionPolicy()</tspan><tspan x="542" dy="20">runner()</tspan><tspan x="542" dy="20">allocationOptions()</tspan><tspan x="542" dy="20">addRef()</tspan><tspan x="542" dy="20">removeRef()</tspan><tspan x="542" dy="20">create()</tspan><tspan x="542" dy="20">create()</tspan><tspan x="542" dy="20">RunQueueImpl()</tspan><tspan x="542" dy="20">_internalCreateOrGetRunCommand</tspan><tspan x="542" dy="14.5">Impl()</tspan><tspan x="542" dy="20">_internalRuntime()</tspan><tspan x="542" dy="20">_internalStream()</tspan><tspan x="542" dy="20">_internalFreeRunningCommands()</tspan><tspan x="542" dy="20">_internalBarrier()</tspan><tspan x="542" dy="20">_isInPool()</tspan><tspan x="542" dy="20">_release()</tspan><tspan x="542" dy="20">_setDefaultMemoryRessource()</tspan><tspan x="542" dy="20">_reset()</tspan></text>
</g>

<g id="autoRef2">
<rect class="b" x="741" y="6215" width="252" height="380"/>
<path class="s" d="M741,6253H993M741,6273H993"/>
<text x="748" y="6230.5">Arcane::AutoRef2&lt; Arcane</text>
<text class="m" x="867" y="6245.5">::Accelerator::impl::RunQueueImpl &gt;</text>
<text class="m" x="785.5" y="6286.5">+<tspan x="785.5" dy="20">+</tspan><tspan x="785.5" dy="20">+</tspan><tspan x="785.5" dy="20">+</tspan><tspan x="785.5" dy="20">+</tspan><tspan x="785.5" dy="20">+</tspan><tspan x="785.5" dy="20">+</tspan><tspan x="785.5" dy="20">+</tspan><tspan x="785.5" dy="20">+</tspan><tspan x="785.5" dy="20">+</tspan><tspan x="785.5" dy="20">+</tspan><tspan x="785.5" dy="20">+</tspan><tspan x="785.5" dy="20">+</tspan><tspan x="785.5" dy="20">-</tspan><tspan x="785.5" dy="20">-</tspan><tspan x="785.5" dy="20">-</tspan></text>
<text x="826" y="6286.5">AutoRef2()<tspan x="826" dy="20">AutoRef2()</tspan><tspan x="826" dy="20">AutoRef2()</tspan><tspan x="826" dy="20">AutoRef2()</tspan><tspan x="826" dy="20">operator=()</tspan><tspan x="826" dy="20">operator=()</tspan><tspan x="826" dy="20">operator=()</tspan><tspan x="826" dy="20">~AutoRef2()</tspan><tspan x="826" dy="20">operator-&gt;()</tspan><tspan x="826" dy="20">operator*()</tspan><tspan x="826" dy="20">get()</tspan><tspan x="826" dy="20">isNull()</tspan><tspan x="826" dy="20">operator bool()</tspan><tspan x="826" dy="20">_addRef()</tspan><tspan x="826" dy="20">_removeRef()</tspan><tspan x="826" dy="20">_changeValue()</tspan></text>
</g>

<g id="runQueue">
<rect class="b" x="833" y="6658" width="207" height="660"/>
<path class="s" d="M833,6696H1040M833,6716H1040"/>
<text class="m" x="936.5" y="6673.5">Arcane::Accelerator</text>
<text class="m" x="936.5" y="6688.5">::RunQueue</text>
<text class="m" x="844.5" y="6729.5">+<tspan x="844.5" dy="20">+</tspan><tspan x="844.5" dy="20">+</tspan><tspan x="844.5" dy="20">+</tspan><tspan x="844.5" dy="20">+</tspan><tspan x="844.5" dy="20">+</tspan><tspan x="844.5" dy="20">+</tspan><tspan x="844.5" dy="20">+</tspan><tspan x="844.5" dy="20">+</tspan><tspan x="844.5" dy="20">+</tspan><tspan x="844.5" dy="40">+</tspan><tspan x="844.5" dy="20">+</tspan><tspan x="844.5" dy="20">+</tspan><tspan x="844.5" dy="20">+</tspan><tspan x="844.5" dy="20">+</tspan><tspan x="844.5" dy="20">+</tspan><tspan x="844.5" dy="20">+</tspan><tspan x="844.5" dy="20">-</tspan><tspan x="844.5" dy="20">-</tspan><tspan x="844.5" dy="20">-</tspan><tspan x="844.5" dy="20">-</tspan><tspan x="844.5" dy="20">-</tspan><tspan x="844.5" dy="20">*</tspan><tspan x="844.5" dy="20">*</tspan><tspan x="844.5" dy="20">*</tspan><tspan x="844.5" dy="20">*</tspan><tspan x="844.5" dy="20">*</tspan><tspan x="844.5" dy="20">*</tspan><tspan x="844.5" dy="20">*</tspan></text>
<text x="855" y="6729.5">RunQueue()<tspan x="855" dy="20">RunQueue()</tspan><tspan x="855" dy="20">RunQueue()</tspan><tspan x="855" dy="20">~RunQueue()</tspan><tspan x="855" dy="20">RunQueue()</tspan><tspan x="855" dy="20">operator=()</tspan><tspan x="855" dy="20">RunQueue()</tspan><tspan x="855" dy="20">operator=()</tspan><tspan x="855" dy="20">isNull()</tspan><tspan x="855" dy="20">executionPolicy()</tspan><tspan x="855" dy="20">et 7 de plus...</tspan><tspan x="855" dy="20">recordEvent()</tspan><tspan x="855" dy="20">recordEvent()</tspan><tspan x="855" dy="20">waitEvent()</tspan><tspan x="855" dy="20">waitEvent()</tspan><tspan x="855" dy="20">allocationOptions()</tspan><tspan x="855" dy="20">setMemoryRessource()</tspan><tspan x="855" dy="20">memoryRessource()</tspan><tspan x="855" dy="20">_internalRuntime()</tspan><tspan x="855" dy="20">_internalStream()</tspan><tspan x="855" dy="20">_getCommandImpl()</tspan><tspan x="855" dy="20">_checkNotNull()</tspan><tspan x="855" dy="20">_isAutoPrefetchCommand()</tspan><tspan x="855" dy="20">recordEvent()</tspan><tspan x="855" dy="20">recordEvent()</tspan><tspan x="855" dy="20">waitEvent()</tspan><tspan x="855" dy="20">waitEvent()</tspan><tspan x="855" dy="20">allocationOptions()</tspan><tspan x="855" dy="20">setMemoryRessource()</tspan><tspan x="855" dy="20">memoryRessource()</tspan></text>
</g>

<g id="arcaneMaterialHeatTestObject">
<rect class="bu" x="351" y="6955" width="211" height="63"/>
<path class="su" d="M351,6978H562M351,6998H562"/>
<text class="m" x="456.5" y="6970.5">ArcaneMaterialHeatTestObject</text>
</g>

<g id="iMeshMaterialMng">
<rect class="b" x="587" y="6817" width="221" height="340"/>
<path class="s" d="M587,6855H808M587,6875H808"/>
<text class="m" x="697.5" y="6832.5">Arcane::Materials::</text>
<text class="m" x="697.5" y="6847.5">IMeshMaterialMng</text>
<text class="m" x="598.5" y="6888.5">+<tspan x="598.5" dy="20">+</tspan><tspan x="598.5" dy="20">+</tspan><tspan x="598.5" dy="20">+</tspan><tspan x="598.5" dy="20">+</tspan><tspan x="598.5" dy="20">+</tspan><tspan x="598.5" dy="20">+</tspan><tspan x="598.5" dy="20">+</tspan><tspan x="598.5" dy="20">+</tspan><tspan x="598.5" dy="20">+</tspan><tspan x="598.5" dy="40">+</tspan><tspan x="598.5" dy="20">+</tspan><tspan x="598.5" dy="20">-</tspan></text>
<text x="610" y="6888.5">~IMeshMaterialMng()<tspan x="610" dy="20">mesh()</tspan><tspan x="610" dy="20">traceMng()</tspan><tspan x="610" dy="20">registerMaterialInfo()</tspan><tspan x="610" dy="20">createEnvironment()</tspan><tspan x="610" dy="20">createBlock()</tspan><tspan x="610" dy="20">addEnvironmentToBlock()</tspan><tspan x="610" dy="20">removeEnvironmentToBlock()</tspan><tspan x="610" dy="20">endCreate()</tspan><tspan x="610" dy="20">recreateFromDump()</tspan><tspan x="610" dy="20">et 47 de plus...</tspan><tspan x="610" dy="20">getReference()</tspan><tspan x="610" dy="20">getTrueReference()</tspan><tspan x="610" dy="20">_internalSetFactory()</tspan></text>
</g>

<g id="iProfilingService">
<rect class="b" x="1116" y="6854" width="172" height="265"/>
<path class="s" d="M1116,6877H1288M1116,6897H1288"/>
<text class="m" x="1202" y="6869.5">Arcane::IProfilingService</text>
<text class="m" x="1132.5" y="6910.5">+<tspan x="1132.5" dy="20">+</tspan><tspan x="1132.5" dy="20">+</tspan><tspan x="1132.5" dy="20">+</tspan><tspan x="1132.5" dy="20">+</tspan><tspan x="1132.5" dy="20">+</tspan><tspan x="1132.5" dy="20">+</tspan><tspan x="1132.5" dy="20">+</tspan><tspan x="1132.5" dy="20">+</tspan><tspan x="1132.5" dy="20">+</tspan><tspan x="1132.5" dy="20">+</tspan></text>
<text x="1147" y="6910.5">~IProfilingService()<tspan x="1147" dy="20">initialize()</tspan><tspan x="1147" dy="20">isInitialized()</tspan><tspan x="1147" dy="20">startProfiling()</tspan><tspan x="1147" dy="20">switchEvent()</tspan><tspan x="1147" dy="20">stopProfiling()</tspan><tspan x="1147" dy="20">printInfos()</tspan><tspan x="1147" dy="20">getInfos()</tspan><tspan x="1147" dy="20">dumpJSON()</tspan><tspan x="1147" dy="20">reset()</tspan><tspan x="1147" dy="20">timerMng()</tspan></text>
</g>

<g id="runner">
<rect class="b" x="1313" y="6767" width="226" height="440"/>
<path class="s" d="M1313,6805H1539M1313,6865H1539"/>
<text class="m" x="1426" y="6782.5">Arcane::Accelerator</text>
<text class="m" x="1426" y="6797.5">::Runner</text>
<text class="m" x="1324.5" y="6818.5">-<tspan x="1324.5" dy="20">-</tspan><tspan x="1324.5" dy="20">-</tspan></text>
<text x="1335" y="6818.5">RunQueue<tspan x="1335" dy="20">RunQueueEvent</tspan><tspan x="1335" dy="20">m_p</tspan></text>
<text class="m" x="1324.5" y="6878.5">+<tspan x="1324.5" dy="20">+</tspan><tspan x="1324.5" dy="20">+</tspan><tspan x="1324.5" dy="20">+</tspan><tspan x="1324.5" dy="20">+</tspan><tspan x="1324.5" dy="20">+</tspan><tspan x="1324.5" dy="20">+</tspan><tspan x="1324.5" dy="20">+</tspan><tspan x="1324.5" dy="20">+</tspan><tspan x="1324.5" dy="20">+</tspan><tspan x="1324.5" dy="40">+</tspan><tspan x="1324.5" dy="20">+</tspan><tspan x="1324.5" dy="20">-</tspan><tspan x="1324.5" dy="20">-</tspan><tspan x="1324.5" dy="20">-</tspan><tspan x="1324.5" dy="20">-</tspan></text>
<text x="1335" y="6878.5">Runner()<tspan x="1335" dy="20">Runner()</tspan><tspan x="1335" dy="20">Runner()</tspan><tspan x="1335" dy="20">executionPolicy()</tspan><tspan x="1335" dy="20">initialize()</tspan><tspan x="1335" dy="20">initialize()</tspan><tspan x="1335" dy="20">isInitialized()</tspan><tspan x="1335" dy="20">setConcurrentQueueCreation()</tspan><tspan x="1335" dy="20">isConcurrentQueueCreation()</tspan><tspan x="1335" dy="20">cumulativeCommandTime()</tspan><tspan x="1335" dy="20">et 8 de plus...</tspan><tspan x="1335" dy="20">deviceInfoList()</tspan><tspan x="1335" dy="20">stopAllProfiling()</tspan><tspan x="1335" dy="20">_internalRuntime()</tspan><tspan x="1335" dy="20">_impl()</tspan><tspan x="1335" dy="20">_checkIsInit()</tspan><tspan x="1335" dy="20">_isAutoPrefetchCommand()</tspan></text>
</g>

<g id="materialHeatTestModule">
<rect class="bf" x="919" y="7380" width="227" height="460"/>
<path class="s" d="M919,7418H1146M919,7438H1146"/>
<text class="m" x="1032.5" y="7395.5">ArcaneTest::MaterialHeat</text>
<text class="m" x="1032.5" y="7410.5">TestModule</text>
<text class="m" x="930.5" y="7451.5">+<tspan x="930.5" dy="20">+</tspan><tspan x="930.5" dy="20">+</tspan><tspan x="930.5" dy="20">+</tspan><tspan x="930.5" dy="20">+</tspan><tspan x="930.5" dy="20">+</tspan><tspan x="930.5" dy="20">+</tspan><tspan x="930.5" dy="20">+</tspan><tspan x="930.5" dy="20">+</tspan><tspan x="930.5" dy="20">+</tspan><tspan x="930.5" dy="20">+</tspan><tspan x="930.5" dy="20">+</tspan><tspan x="930.5" dy="20">+</tspan><tspan x="930.5" dy="20">+</tspan><tspan x="930.5" dy="20">-</tspan><tspan x="930.5" dy="20">-</tspan><tspan x="930.5" dy="20">-</tspan><tspan x="930.5" dy="20">-</tspan><tspan x="930.5" dy="20">-</tspan><tspan x="930.5" dy="20">-</tspan></text>
<text x="942" y="7451.5">MaterialHeatTestModule()<tspan x="942" dy="20">~MaterialHeatTestModule()</tspan><tspan x="942" dy="20">buildInit()</tspan><tspan x="942" dy="20">compute()</tspan><tspan x="942" dy="20">startInit()</tspan><tspan x="942" dy="20">continueInit()</tspan><tspan x="942" dy="20">_addHeat()</tspan><tspan x="942" dy="20">_addCold()</tspan><tspan x="942" dy="20">_computeGlobalTemperature()</tspan><tspan x="942" dy="20">_computeCellsToAdd()</tspan><tspan x="942" dy="20">_computeCellsToRemove()</tspan><tspan x="942" dy="20">_copyToGlobal()</tspan><tspan x="942" dy="20">_initNewCells()</tspan><tspan x="942" dy="20">_computeTotalTemperature()</tspan><tspan x="942" dy="20">_computeCellsCenter()</tspan><tspan x="942" dy="20">_buildHeatObjects()</tspan><tspan x="942" dy="20">_findMaterial()</tspan><tspan x="942" dy="20">_compute()</tspan><tspan x="942" dy="20">_printCellsTemperature()</tspan><tspan x="942" dy="20">_changeVariableAllocator()</tspan></text>
</g>
</svg>
